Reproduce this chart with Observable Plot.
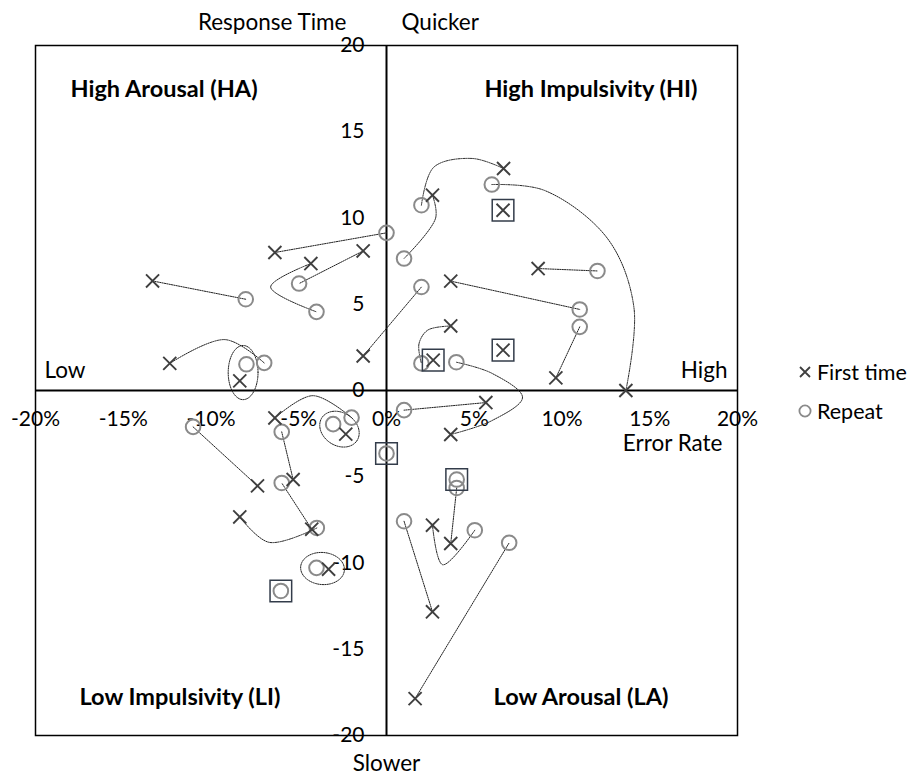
<!DOCTYPE html>
<html>
<head>
<meta charset="utf-8">
<script src="https://cdn.jsdelivr.net/npm/d3@7"></script>
<script src="https://cdn.jsdelivr.net/npm/@observablehq/plot@0.6"></script>
<style>
  html, body { margin: 0; padding: 0; background: #fff; }
  #wrap { position: relative; width: 916px; height: 778px; font-family: Lato, "Open Sans", sans-serif; }
  .leg { position: absolute; left: 796px; font-size: 21.5px; color: #000; display: flex; align-items: center; height: 24px; }
  .leg svg { margin-right: 3px; }
</style>
</head>
<body>
<div id="wrap"></div>
<script>
// ---- Data ----
const xTicks = [-20, -15, -10, -5, 0, 5, 10, 15, 20];
const yTicks = [20, 15, 10, 5, 0, -5, -10, -15, -20];

// First time (crosses): error rate (%) and response time
const firstX = [6.67, 2.62, 6.64, 8.64, 3.66, 3.66, 2.66, 6.64, 9.65, 13.64, -13.33, -6.36, -4.31, -1.33, -1.33, -12.35, -8.36, -6.36, -2.32, -7.35, -5.32, -8.36, -4.26, -3.30, 5.66, 3.66, 2.62, 3.66, 2.62, 1.63];
const firstY = [12.87, 11.32, 10.45, 7.07, 6.34, 3.74, 1.76, 2.34, 0.73, 0.0, 6.35, 8.0, 7.36, 8.09, 2.0, 1.57, 0.56, -1.59, -2.53, -5.53, -5.16, -7.33, -8.04, -10.36, -0.70, -2.55, -7.81, -8.87, -12.83, -17.86];

// Repeat (circles)
const repeatX = [6.0, 1.99, 0, 1.0, 1.99, 12.02, 11.01, 11.01, 1.99, 3.98, -8.02, -4.98, -3.99, -7.98, -6.97, -1.99, -3.04, -11.02, -5.97, -5.97, -3.97, -3.99, -6.02, 0, 1.0, 4.0, 4.0, 1.0, 5.03, 6.99];
const repeatY = [11.94, 10.74, 9.14, 7.65, 6.0, 6.93, 4.70, 3.69, 1.57, 1.64, 5.29, 6.2, 4.56, 1.52, 1.6, -1.57, -1.95, -2.11, -2.4, -5.36, -7.97, -10.28, -11.62, -3.65, -1.14, -5.16, -5.65, -7.58, -8.1, -8.83];

// Highlighted (boxed) points
const boxedFirst = [2, 6, 7];
const boxedRepeat = [22, 23, 25];

// Connections: [first index, repeat index, bend points]
const pairs = [
  [0, 1, [[4.9, 13.45], [2.7, 12.95]]],
  [1, 3, [[2.8, 10.0]]],
  [9, 0, [[14.1, 4.8], [12.6, 8.8], [9.0, 11.6]]],
  [3, 5, []],
  [4, 6, []],
  [8, 7, []],
  [5, 8, [[2.35, 3.5], [1.85, 2.7]]],
  [25, 9, [[6.0, -1.75], [7.75, -0.4], [6.0, 1.0]]],
  [24, 24, []],
  [11, 2, []],
  [14, 4, []],
  [10, 10, []],
  [13, 11, []],
  [12, 12, [[-6.6, 6.0]]],
  [15, 14, [[-9.2, 2.95]]],
  [17, 15, [[-4.2, -0.3]]],
  [19, 17, []],
  [20, 18, []],
  [22, 19, []],
  [21, 20, [[-6.7, -8.8]]],
  [26, 28, [[3.2, -10.1]]],
  [27, 26, []],
  [28, 27, []],
  [29, 29, []]
];

// Loops (dotted ellipses round a first/repeat pair): [first, repeat, semi-x, semi-y, tilt deg]
const loops = [
  [16, 13, 0.85, 1.57, 0],
  [18, 16, 1.2, 0.95, -35],
  [23, 21, 1.25, 0.93, -5]
];

// ---- Build tables ----
const firsts = firstX.map((x, i) => ({x, y: firstY[i], i}));
const repeats = repeatX.map((x, i) => ({x, y: repeatY[i], i}));
const boxes = [...boxedFirst.map(i => firsts[i]), ...boxedRepeat.map(i => repeats[i])];

const paths = [];
pairs.forEach(([f, r, bends], k) => {
  paths.push({k, x: firstX[f], y: firstY[f]});
  bends.forEach(([x, y]) => paths.push({k, x, y}));
  paths.push({k, x: repeatX[r], y: repeatY[r]});
});
const loopPts = [];
loops.forEach(([f, r, a, b, deg], k) => {
  const cx = (firstX[f] + repeatX[r]) / 2, cy = (firstY[f] + repeatY[r]) / 2;
  const A = deg * Math.PI / 180;
  for (let j = 0; j <= 72; j++) {
    const t = j / 72 * 2 * Math.PI;
    loopPts.push({k, x: cx + a * Math.cos(t) * Math.cos(A) - b * Math.sin(t) * Math.sin(A),
                     y: cy + a * Math.cos(t) * Math.sin(A) + b * Math.sin(t) * Math.cos(A)});
  }
});

const dotted = {stroke: "#222", strokeWidth: 1, strokeDasharray: "1.3,1.1"};
const lab = 23.5;   // bold quadrant labels
const lab2 = 22.5;  // plain labels
const T = (s, o) => Plot.text([s], {text: d => d, lineAnchor: "middle", fill: "#000", ...o});

const chart = Plot.plot({
  width: 916,
  height: 778,
  marginLeft: 35,
  marginRight: 179,
  marginTop: 45,
  marginBottom: 43,
  x: {domain: [-20, 20], axis: null},
  y: {domain: [-20, 20], axis: null},
  style: {fontFamily: "Lato, 'Open Sans', sans-serif", fontSize: "21px", color: "#000", background: "#fff"},
  marks: [
    Plot.frame({stroke: "#000", strokeWidth: 1.5}),
    Plot.ruleX([0], {stroke: "#000", strokeWidth: 2}),
    Plot.ruleY([0], {stroke: "#000", strokeWidth: 2}),
    // tick labels
    Plot.text(xTicks, {x: d => d, y: () => 0, text: d => d + "%", dy: 29, fontSize: 21, fill: "#000"}),
    Plot.text(yTicks, {x: () => 0, y: d => d, text: d => String(d), dx: -22, textAnchor: "end", fontSize: 21, fill: "#000"}),
    // connectors
    Plot.line(paths, {x: "x", y: "y", z: "k", curve: "catmull-rom", ...dotted}),
    Plot.line(loopPts, {x: "x", y: "y", z: "k", curve: "linear", ...dotted}),
    // points
    Plot.dot(repeats, {x: "x", y: "y", symbol: "circle", r: 7.3, stroke: "#8a8a8a", strokeWidth: 2, fill: "none"}),
    Plot.dot(firsts, {x: "x", y: "y", symbol: "times", r: 6, stroke: "#3f3f3f", strokeWidth: 1.9}),
    Plot.dot(boxes, {x: "x", y: "y", symbol: "square", r: 12.2, stroke: "#333c4a", strokeWidth: 1.5, fill: "none"}),
    // annotations
    T("High Arousal (HA)", {frameAnchor: "top-left", dx: 35, dy: 44, textAnchor: "start", fontWeight: "bold", fontSize: lab}),
    T("High Impulsivity (HI)", {frameAnchor: "top-right", dx: -40, dy: 44, textAnchor: "end", fontWeight: "bold", fontSize: lab}),
    T("Low Impulsivity (LI)", {frameAnchor: "bottom-left", dx: 44, dy: -38, textAnchor: "start", fontWeight: "bold", fontSize: lab}),
    T("Low Arousal (LA)", {frameAnchor: "bottom-right", dx: -69, dy: -38, textAnchor: "end", fontWeight: "bold", fontSize: lab}),
    T("Low", {frameAnchor: "left", dx: 9, dy: -20, textAnchor: "start", fontSize: lab2}),
    T("High", {frameAnchor: "right", dx: -10, dy: -20, textAnchor: "end", fontSize: lab2}),
    T("Error Rate", {frameAnchor: "right", dx: -15, dy: 53, textAnchor: "end", fontSize: lab2}),
    T("Response Time", {frameAnchor: "top", dx: -40, dy: -23, textAnchor: "end", fontSize: lab2}),
    T("Quicker", {frameAnchor: "top", dx: 15, dy: -23, textAnchor: "start", fontSize: lab2}),
    T("Slower", {frameAnchor: "bottom", dy: 28, fontSize: lab2})
  ]
});

const wrap = document.getElementById("wrap");
wrap.appendChild(chart);

// legend
const legend = [
  {label: "First time", top: 360, svg: '<svg width="18" height="18" viewBox="-9 -9 18 18"><path d="M-5,-5L5,5M5,-5L-5,5" stroke="#3f3f3f" stroke-width="1.8"/></svg>'},
  {label: "Repeat", top: 399, svg: '<svg width="18" height="18" viewBox="-9 -9 18 18"><circle r="5.6" fill="none" stroke="#8a8a8a" stroke-width="1.8"/></svg>'}
];
legend.forEach(d => {
  const el = document.createElement("div");
  el.className = "leg";
  el.style.top = d.top + "px";
  el.innerHTML = d.svg + "<span>" + d.label + "</span>";
  wrap.appendChild(el);
});
</script>
</body>
</html>
